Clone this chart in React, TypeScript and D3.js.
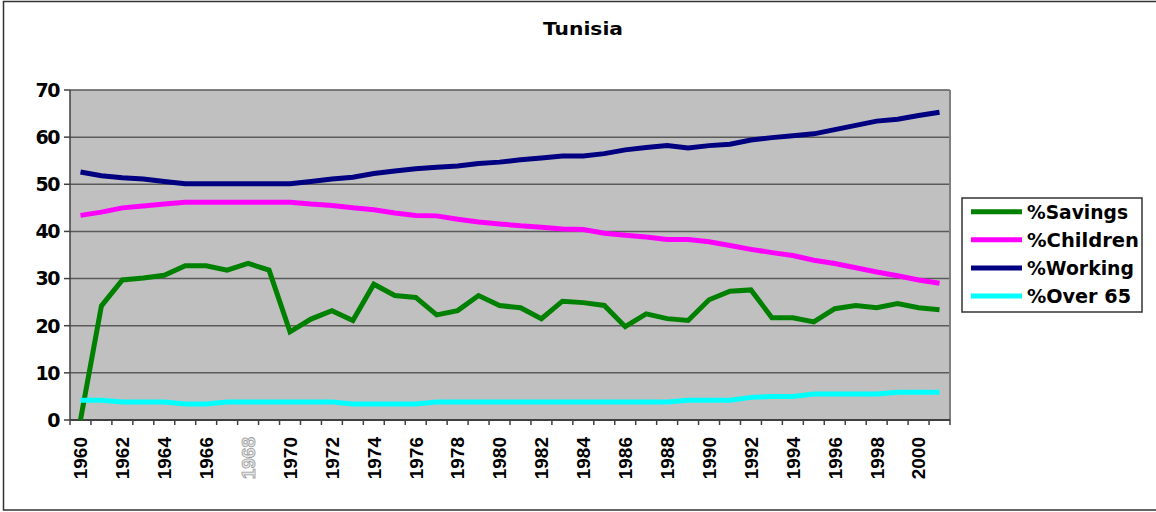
import React from "react";
import * as d3 from "d3";

// Tunisia: savings and age structure, 1960-2001
const years = [
  1960, 1961, 1962, 1963, 1964, 1965, 1966, 1967, 1968, 1969,
  1970, 1971, 1972, 1973, 1974, 1975, 1976, 1977, 1978, 1979,
  1980, 1981, 1982, 1983, 1984, 1985, 1986, 1987, 1988, 1989,
  1990, 1991, 1992, 1993, 1994, 1995, 1996, 1997, 1998, 1999,
  2000, 2001,
];

const savings = [
  0, 24.2, 29.7, 30.1, 30.7, 32.7, 32.7, 31.8, 33.2, 31.8,
  18.7, 21.4, 23.2, 21.1, 28.8, 26.4, 26.0, 22.3, 23.2, 26.4,
  24.3, 23.8, 21.5, 25.2, 24.9, 24.3, 19.8, 22.5, 21.5, 21.1,
  25.5, 27.3, 27.6, 21.7, 21.7, 20.8, 23.6, 24.3, 23.8, 24.7,
  23.8, 23.4,
];

const children = [
  43.4, 44.1, 45.0, 45.4, 45.8, 46.2, 46.2, 46.2, 46.2, 46.2,
  46.2, 45.8, 45.5, 45.0, 44.6, 43.9, 43.4, 43.3, 42.6, 42.0,
  41.6, 41.2, 40.9, 40.5, 40.4, 39.6, 39.2, 38.8, 38.3, 38.3,
  37.8, 37.0, 36.2, 35.5, 34.9, 33.9, 33.2, 32.3, 31.4, 30.6,
  29.7, 29.0,
];

const working = [
  52.6, 51.8, 51.4, 51.1, 50.6, 50.1, 50.1, 50.1, 50.1, 50.1,
  50.1, 50.6, 51.1, 51.5, 52.3, 52.8, 53.3, 53.6, 53.9, 54.4,
  54.7, 55.2, 55.6, 56.0, 56.0, 56.5, 57.3, 57.8, 58.2, 57.7,
  58.2, 58.5, 59.4, 59.9, 60.3, 60.7, 61.6, 62.5, 63.4, 63.8,
  64.6, 65.3,
];

const over65 = [
  4.2, 4.2, 3.8, 3.8, 3.8, 3.4, 3.4, 3.8, 3.8, 3.8,
  3.8, 3.8, 3.8, 3.4, 3.4, 3.4, 3.4, 3.8, 3.8, 3.8,
  3.8, 3.8, 3.8, 3.8, 3.8, 3.8, 3.8, 3.8, 3.8, 4.2,
  4.2, 4.2, 4.8, 5.0, 5.0, 5.5, 5.5, 5.5, 5.5, 5.9,
  5.9, 5.9,
];

const seriesNames = ["%Savings", "%Children", "%Working", "%Over 65"];
const yTicks = [0, 10, 20, 30, 40, 50, 60, 70];

const series = [
  { name: seriesNames[0], values: savings, color: "#008000", legendWidth: 101 },
  { name: seriesNames[1], values: children, color: "#ff00ff", legendWidth: 112 },
  { name: seriesNames[2], values: working, color: "#000080", legendWidth: 107 },
  { name: seriesNames[3], values: over65, color: "#00ffff", legendWidth: 104 },
];

const W = 1156;
const H = 512;
const plot = { left: 70, right: 950, top: 90, bottom: 420 };

const App = () => {
  const x = d3
    .scaleBand<number>()
    .domain(years)
    .range([plot.left, plot.right])
    .padding(0);
  const xc = (yr: number) => (x(yr) as number) + x.bandwidth() / 2;

  const y = d3.scaleLinear().domain([0, 70]).range([plot.bottom, plot.top]);

  const line = d3
    .line<number>()
    .x((d, i) => xc(years[i]))
    .y((d) => y(d));

  // category boundaries for the x ticks
  const boundaries = years.map((yr) => x(yr) as number).concat([plot.right]);

  const legend = { x: 962, y: 198, w: 180, h: 114, row: 28.1, first: 211.7 };

  return (
    <svg
      width={W}
      height={H}
      style={{ position: "absolute", left: 0, top: 0, display: "block", background: "#fff" }}
    >
      {/* chart frame */}
      <rect x={3.5} y={1.5} width={1200} height={508.5} fill="#fff" stroke="#333" strokeWidth={1.5} />

      {/* title */}
      <text
        x={583}
        y={35}
        textAnchor="middle"
        fontFamily="DejaVu Sans, sans-serif"
        fontWeight="bold"
        fontSize={18}
        textLength={80}
        lengthAdjust="spacingAndGlyphs"
      >
        Tunisia
      </text>

      {/* plot area */}
      <rect
        x={plot.left}
        y={plot.top}
        width={plot.right - plot.left}
        height={plot.bottom - plot.top}
        fill="#c0c0c0"
      />

      {/* gridlines */}
      {yTicks
        .filter((t) => t > 0)
        .map((t) => (
          <line
            key={"g" + t}
            x1={plot.left}
            x2={plot.right}
            y1={y(t)}
            y2={y(t)}
            stroke="#5a5a5a"
            strokeWidth={1.5}
          />
        ))}

      {/* plot border */}
      <line x1={plot.right} x2={plot.right} y1={plot.top} y2={plot.bottom} stroke="#808080" strokeWidth={2} />

      {/* y axis */}
      <line x1={plot.left} x2={plot.left} y1={plot.top} y2={plot.bottom} stroke="#404040" strokeWidth={1.5} />
      {yTicks.map((t) => (
        <g key={"y" + t}>
          <line x1={plot.left - 6} x2={plot.left} y1={y(t)} y2={y(t)} stroke="#404040" strokeWidth={1.5} />
          <text
            x={59}
            y={y(t)}
            dy="0.36em"
            textAnchor="end"
            fontFamily="DejaVu Sans, sans-serif"
            fontWeight="bold"
            fontSize={19}
            letterSpacing={-1.5}
          >
            {t}
          </text>
        </g>
      ))}

      {/* x axis */}
      <line x1={plot.left} x2={plot.right} y1={plot.bottom} y2={plot.bottom} stroke="#404040" strokeWidth={2} />
      {boundaries.map((bx, i) => (
        <line key={"xt" + i} x1={bx} x2={bx} y1={plot.bottom} y2={plot.bottom + 5} stroke="#404040" strokeWidth={1.5} />
      ))}
      {years.map((yr, i) =>
        i % 2 === 0 ? (
          <text
            key={"xl" + yr}
            transform={`translate(${xc(yr)},437) rotate(-90)`}
            dy="0.36em"
            textAnchor="end"
            fontFamily="Liberation Sans, Arial, sans-serif"
            fontWeight="bold"
            fontSize={19}
            fill={yr === 1968 ? "#e8e8e8" : "#000"}
            stroke={yr === 1968 ? "#9a9a9a" : "none"}
            strokeWidth={yr === 1968 ? 0.8 : 0}
          >
            {yr}
          </text>
        ) : null
      )}

      {/* series */}
      {series.map((s) => (
        <path
          key={s.name}
          d={line(s.values) as string}
          fill="none"
          stroke={s.color}
          strokeWidth={5}
        />
      ))}

      {/* legend */}
      <rect x={legend.x} y={legend.y} width={legend.w} height={legend.h} fill="#fff" stroke="#333" strokeWidth={1.5} />
      {series.map((s, i) => {
        const ly = legend.first + i * legend.row;
        return (
          <g key={"lg" + s.name}>
            <line x1={971} x2={1022} y1={ly} y2={ly} stroke={s.color} strokeWidth={5} />
            <text
              x={1027}
              y={ly}
              dy="0.38em"
              fontFamily="DejaVu Sans, sans-serif"
              fontWeight="bold"
              fontSize={19}
              textLength={s.legendWidth}
              lengthAdjust="spacingAndGlyphs"
            >
              {s.name}
            </text>
          </g>
        );
      })}
    </svg>
  );
};

export default App;
